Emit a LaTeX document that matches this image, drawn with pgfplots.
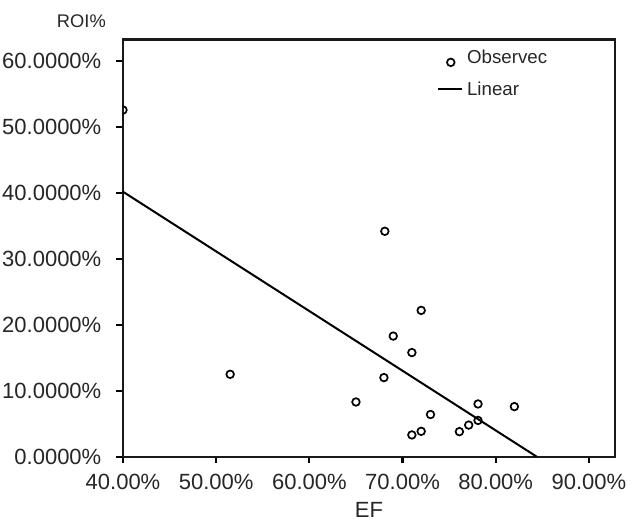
\documentclass[border=0pt]{standalone}
\usepackage{fontspec}
\setmainfont{Liberation Sans}
\usepackage{pgfplots}
\pgfplotsset{compat=1.18}
\pgfplotstableread{
EF ROI
40.0 52.6
51.5 12.5
65.0 8.3
68.0 12.0
68.1 34.2
69.0 18.3
71.0 15.8
71.0 3.3
72.0 22.2
72.0 3.85
73.0 6.4
76.1 3.8
77.1 4.8
78.1 8.0
78.1 5.5
82.0 7.6
}\obs
\begin{document}
\begin{tikzpicture}
\begin{axis}[
  scale only axis, width=492pt, height=417.2pt,
  xmin=40, xmax=92.8, ymin=0, ymax=63.3,
  axis line style={line width=2.2pt, black!90},
  xtick={40,50,60,70,80,90},
  xticklabels={40.00\%,50.00\%,60.00\%,70.00\%,80.00\%,90.00\%},
  ytick={0,10,20,30,40,50,60},
  yticklabels={0.0000\%,10.0000\%,20.0000\%,30.0000\%,40.0000\%,50.0000\%,60.0000\%},
  tick align=outside, xtick pos=bottom, ytick pos=left,
  major tick length=6.5pt,
  tick style={line width=2.2pt, black},
  /pgf/number format/assume math mode=true,
  ticklabel style={font=\fontsize{22}{26}\selectfont, text=black!85},
  yticklabel style={inner sep=0pt, anchor=east, xshift=-15pt},
  xticklabel style={inner sep=0pt, anchor=north, yshift=-10.5pt},
  xlabel={EF},
  xlabel style={font=\fontsize{22}{26}\selectfont, inner sep=0pt, at={(rel axis cs:0.5,0)}, anchor=north, yshift=-45.5pt, text=black!85},
  ylabel={ROI\%},
  ylabel style={font=\fontsize{18.3}{22}\selectfont, inner sep=0pt, rotate=-90, at={(rel axis cs:0,1)}, anchor=south east, xshift=-17pt, yshift=11.2pt, text=black!85},
  legend style={draw=none, fill=none, at={(rel axis cs:0.638,0.98)}, anchor=north west, inner sep=0pt,
    font=\fontsize{18.7}{22}\selectfont, cells={anchor=west}, text=black!85, row sep=12.7pt, column sep=2pt},
  clip marker paths=true,
]
\addplot[only marks, mark=o, mark size=3.8pt, mark options={line width=1.7pt, black},
  legend image code/.code={\path (0pt,0pt) (24pt,0pt); \draw[line width=1.7pt] (12.7pt,-4.8pt) circle (3.8pt);}]
  table[x=EF, y=ROI] {\obs};
\addlegendentry{Observec}
\addplot[line width=2pt, black, no marks,
  legend image code/.code={\draw[line width=2pt] (0pt,0pt) -- (24pt,0pt);}]
  coordinates {(40,40.2) (84.4,0)};
\addlegendentry{Linear}
\end{axis}
\pgfresetboundingbox
\path (current axis.south west) ++(-123pt,-64.3pt) rectangle ++(632pt,521pt);
\end{tikzpicture}
\end{document}
